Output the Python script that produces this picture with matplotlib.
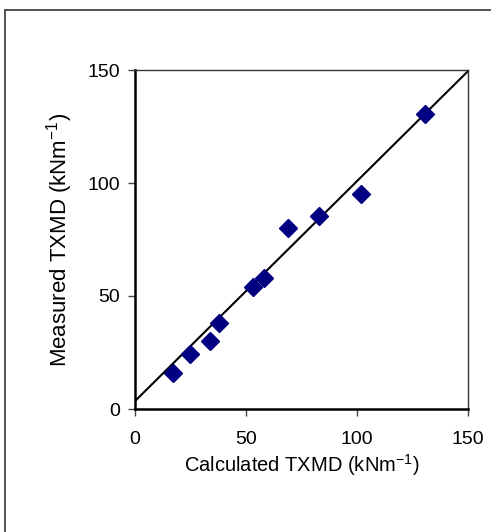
import matplotlib
matplotlib.use("Agg")
import matplotlib.pyplot as plt
from matplotlib.patches import Rectangle

calculated = [17.0, 24.8, 33.9, 38.0, 53.3, 58.3, 68.8, 83.0, 101.6, 130.6]
measured = [16.1, 24.2, 30.1, 38.2, 54.0, 58.1, 80.2, 85.3, 95.1, 130.4]
line_x = [0, 150]
line_y = [3.5, 149.5]
ticks = [0, 50, 100, 150]

plt.rcParams['font.family'] = ['Liberation Sans', 'DejaVu Sans']

W, H = 491, 532
fig = plt.figure(figsize=(W / 100, H / 100), dpi=100)
fig.patches.append(Rectangle((5 / W, -0.1), 2.0, (H - 10) / H + 0.1,
                             transform=fig.transFigure, fill=False,
                             edgecolor='#333333', linewidth=1.2))

ax = fig.add_axes([135 / W, 1 - 409 / H, (468 - 135) / W, (409 - 70) / H])
ax.plot(line_x, line_y, color='black', linewidth=1.5, zorder=2)
ax.plot(calculated, measured, linestyle='none', marker='D', markersize=9.5,
        color='#000080', zorder=3, clip_on=False)

ax.set_xlim(0, 150)
ax.set_ylim(0, 150)
ax.set_xticks(ticks)
ax.set_yticks(ticks)
ax.tick_params(direction='out', length=5, width=1, labelsize=14,
               color='#444444')
ax.tick_params(axis='x', pad=11)
ax.tick_params(axis='y', pad=6)
for s in ['left', 'bottom']:
    ax.spines[s].set_linewidth(1.8)
for s in ['top', 'right']:
    ax.spines[s].set_linewidth(1.0)
    ax.spines[s].set_color('#333333')

ax.set_xlabel('Calculated TXMD (kNm$^{\\mathregular{-1}}$)', fontsize=14.5)
ax.set_ylabel('Measured TXMD (kNm$^{\\mathregular{-1}}$)', fontsize=16)
ax.xaxis.label.set_va('center')
ax.yaxis.label.set_va('center')
ax.xaxis.set_label_coords(0.5, (409 - 465) / 339)
ax.yaxis.set_label_coords((60 - 135) / 333, 0.5)

fig.savefig('out.png', dpi=100)
